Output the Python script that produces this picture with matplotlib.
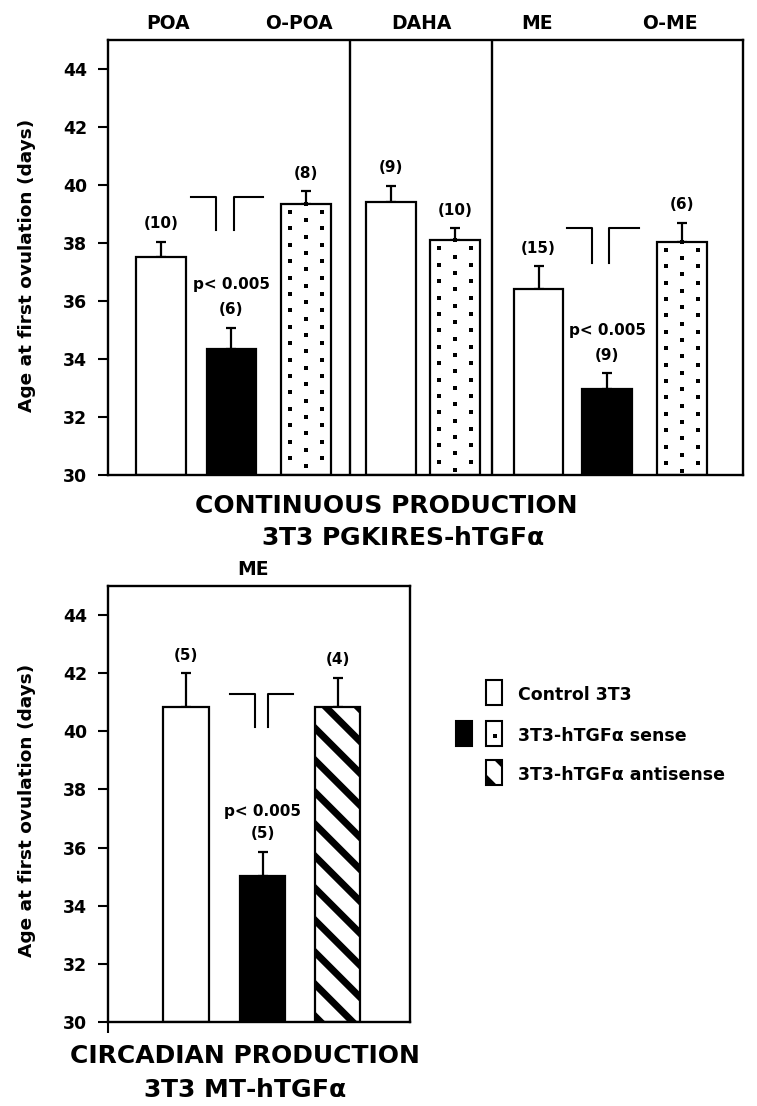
import numpy as np
import matplotlib
matplotlib.use("Agg")
import matplotlib.pyplot as plt
from matplotlib.patches import Rectangle

plt.rcParams["font.family"] = "DejaVu Sans"
plt.rcParams["font.weight"] = "bold"

# ── data ──────────────────────────────────────────────────────────────────────
top_groups = ["POA", "O-POA", "DAHA", "ME", "O-ME"]
top_kind = ["control", "sense", "dots", "control", "dots", "control", "sense", "dots"]
top_mean = [37.5, 34.35, 39.35, 39.4, 38.1, 36.4, 32.95, 38.05]
top_sem = [0.55, 0.73, 0.43, 0.58, 0.40, 0.80, 0.55, 0.65]
top_n = [10, 6, 8, 9, 10, 15, 9, 6]

bot_group = "ME"
bot_kind = ["control", "sense", "antisense"]
bot_mean = [40.82, 35.02, 40.85]
bot_sem = [1.18, 0.83, 1.00]
bot_n = [5, 5, 4]

yticks = [30, 32, 34, 36, 38, 40, 42, 44]
p_text = "p< 0.005"
legend_labels = ["Control 3T3", "3T3-hTGF\u03b1 sense", "3T3-hTGF\u03b1 antisense"]

# ── layout (pixels of a 757 x 1106 canvas) ───────────────────────────────────
W, H = 757, 1106
YMIN = 30
top_x = [0.73, 1.69, 2.71, 3.88, 4.75, 5.90, 6.84, 7.86]
top_seps = [3.315, 5.26]
top_label_px = [168, 299, 421, 537, 670]
bot_x = [1.07, 2.12, 3.15]
LW = 1.7


def box(l, t, r, b):
    return [l / W, 1 - b / H, (r - l) / W, (b - t) / H]


def fx(px):
    return px / W


def fy(py):
    return 1 - py / H


def add_dots(ax, bar):
    # staggered dot fill, spacing in pixels
    bb = bar.get_window_extent()
    cx = (bb.x0 + bb.x1) / 2
    pts = []
    j, y = 0, bb.y1
    while y > bb.y0 + 2:
        for k in (-1, 0, 1):
            if (k + j) % 2 == 0:
                pts.append((cx + 16 * k, y))
        j += 1
        y -= 8.2
    d = ax.transData.inverted().transform(pts)
    ax.plot(d[:, 0], d[:, 1], ls="none", marker="s", ms=2.5, mew=0,
            color="black", zorder=3)


def add_stripes(ax, patch, period=32, lw=5.0):
    # thick diagonal stripes (upper-left to lower-right), clipped to the patch
    bb = patch.get_window_extent()
    inv = ax.transData.inverted()
    c = bb.x1 + bb.y1 - 3
    while c > bb.x0 + bb.y0 - 20:
        xa, xb = bb.x0 - 30, bb.x1 + 30
        p = inv.transform([(xa, c - xa), (xb, c - xb)])
        ln, = ax.plot(p[:, 0], p[:, 1], color="black", lw=lw,
                      solid_capstyle="butt", zorder=2.5)
        ln.set_clip_path(patch)
        c -= period


def style_axes(ax, xlim):
    ax.set_xlim(*xlim)
    ax.set_ylim(YMIN, 45)
    ax.set_yticks(yticks)
    for s in ax.spines.values():
        s.set_linewidth(LW)
    ax.tick_params(axis="y", length=7, width=1.5, pad=8, labelsize=12.5)


def draw_panel(ax, xs, means, sems, kinds, ns, width, p_off=31):
    bars = []
    for x, m, s, k, n in zip(xs, means, sems, kinds, ns):
        fc = "black" if k == "sense" else "white"
        b = ax.bar(x, m - YMIN, width, bottom=YMIN, color=fc, edgecolor="black",
                   lw=1.6, zorder=2)[0]
        bars.append(b)
        ax.errorbar(x, m, yerr=[[0], [s]], fmt="none", ecolor="black",
                    elinewidth=1.6, capsize=3.5, capthick=1.6, zorder=1.5)
        ax.annotate(f"({n})", (x, m + s), xytext=(0, 13), textcoords="offset points",
                    ha="center", va="center", fontsize=11)
        if k == "sense":
            ax.annotate(p_text, (x, m + s), xytext=(0, p_off), textcoords="offset points",
                        ha="center", va="center", fontsize=11)
    return bars


def bracket(ax, xc, offs, top, bottom):
    a, b, c, d = offs
    ax.plot([xc + a, xc + b, xc + b], [top, top, bottom], color="black", lw=1.5)
    ax.plot([xc + c, xc + c, xc + d], [bottom, top, top], color="black", lw=1.5)


fig = plt.figure(figsize=(W / 100, H / 100), dpi=100)

# ── top panel: continuous production ────────────────────────────────────────
ax1 = fig.add_axes(box(108, 40, 743, 475))
style_axes(ax1, (0, 8.70))
ax1.set_xticks([])
bars1 = draw_panel(ax1, top_x, top_mean, top_sem, top_kind, top_n, 0.68)
for xs in top_seps:
    ax1.axvline(xs, color="black", lw=LW)
bracket(ax1, top_x[1], (-0.55, -0.21, 0.03, 0.43), 39.6, 38.46)
bracket(ax1, top_x[6], (-0.55, -0.21, 0.03, 0.43), 38.5, 37.3)
for b, k in zip(bars1, top_kind):
    if k == "dots":
        add_dots(ax1, b)

for name, px in zip(top_groups, top_label_px):
    fig.text(fx(px), fy(29), name, ha="center", va="baseline", fontsize=13.5)
fig.text(fx(27), fy(265), "Age at first ovulation (days)", rotation=90,
         ha="center", va="center", fontsize=13.3)
fig.text(fx(386), fy(513), "CONTINUOUS PRODUCTION", ha="center", va="baseline", fontsize=18)
fig.text(fx(403), fy(545), r"3T3 PGKIRES-hTGF$\mathrm{\alpha}$", ha="center",
         va="baseline", fontsize=18)

# ── bottom panel: circadian production ───────────────────────────────────────
ax2 = fig.add_axes(box(108, 586, 410, 1022))
style_axes(ax2, (0, 4.14))
ax2.set_xticks([0])
ax2.set_xticklabels([""])
ax2.tick_params(axis="x", length=8, width=1.5)
bars2 = draw_panel(ax2, bot_x, bot_mean, bot_sem, bot_kind, bot_n, 0.62, p_off=29)
bracket(ax2, bot_x[1], (-0.445, -0.10, 0.075, 0.42), 41.3, 40.15)
for b, k in zip(bars2, bot_kind):
    if k == "antisense":
        add_stripes(ax2, b)

fig.text(fx(253), fy(575), bot_group, ha="center", va="baseline", fontsize=13.5)
fig.text(fx(27), fy(810), "Age at first ovulation (days)", rotation=90,
         ha="center", va="center", fontsize=13.3)
fig.text(fx(245), fy(1063), "CIRCADIAN PRODUCTION", ha="center", va="baseline", fontsize=18)
fig.text(fx(245), fy(1097), r"3T3 MT-hTGF$\mathrm{\alpha}$", ha="center",
         va="baseline", fontsize=18)

# ── legend, drawn in canvas pixels ───────────────────────────────────────────
pax = fig.add_axes([0, 0, 1, 1])
pax.set_xlim(0, W)
pax.set_ylim(H, 0)
pax.axis("off")
row_top = [680, 721, 760]
for i, (lab, t) in enumerate(zip(legend_labels, row_top)):
    r = Rectangle((486, t), 16, 25, facecolor="white", edgecolor="black", lw=1.5, zorder=2)
    pax.add_patch(r)
    if i == 1:
        pax.add_patch(Rectangle((456, t), 16, 25, facecolor="black", edgecolor="black", lw=1.5))
        pax.plot([495], [t + 15], ls="none", marker="s", ms=2.5, mew=0, color="black", zorder=3)
    if i == 2:
        add_stripes(pax, r, lw=5.0)
    pax.text(518, t + 20, lab, ha="left", va="baseline", fontsize=12.5)

fig.savefig("out.png", dpi=100)
